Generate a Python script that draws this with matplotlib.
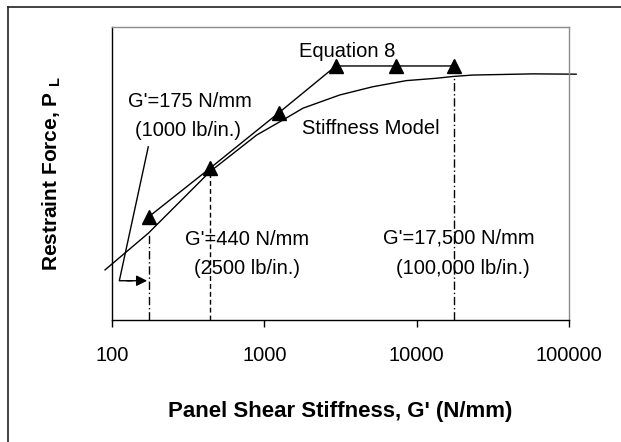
import numpy as np
import matplotlib
matplotlib.use("Agg")
import matplotlib.pyplot as plt
from matplotlib.lines import Line2D

plt.rcParams['font.family'] = ['Liberation Sans', 'DejaVu Sans']
plt.rcParams['mathtext.fontset'] = 'custom'
plt.rcParams['mathtext.rm'] = 'Liberation Sans'
plt.rcParams['mathtext.bf'] = 'Liberation Sans:bold'

# Modelo de rigidez (curva continua)
g_modelo = [90, 173, 439, 889, 1328, 1795, 3126, 5140, 8550, 13450, 17200, 23300, 57600, 111400]
p_modelo = [17.1, 29.6, 50.6, 63.1, 68.3, 72.3, 76.8, 79.6, 81.7, 82.5, 83.1, 83.6, 84.0, 83.9]

# Ecuacion 8 (triangulos)
g_ec8 = [175, 440, 1250, 2950, 7300, 17500]
p_ec8 = [35.3, 51.8, 70.8, 86.7, 86.7, 86.7]

# lineas verticales de referencia
g_ref = [175, 440, 17500]
p_ref = [29.6, 51.8, 83.1]
estilos_ref = [(0, (6, 2, 1, 2)), (0, (3.5, 2.2)), (0, (6, 2, 1, 2))]

ticks_x = [100, 1000, 10000, 100000]

fig = plt.figure(figsize=(6.21, 4.42), dpi=100)
ax = fig.add_axes([112 / 621, 1 - 320 / 442, 457 / 621, 293 / 442])

ax.plot(g_modelo, p_modelo, color='black', lw=1.0, clip_on=False)
ax.plot(g_ec8, p_ec8, color='black', lw=1.0, marker='^', markersize=10, clip_on=False)

for g, p, ls in zip(g_ref, p_ref, estilos_ref):
    ax.plot([g, g], [0, p], color='black', lw=1.0, linestyle=ls)

# flecha que apunta a G'=175
ax.plot([173, 111.7, 135], [59.1, 13.4, 13.4], color='black', lw=1.0)
ax.annotate('', xy=(170, 13.4), xytext=(125, 13.4),
            arrowprops=dict(arrowstyle='-|>', color='black', lw=1.0,
                            mutation_scale=16, shrinkA=0, shrinkB=0))

fs = 14.5
ax.text(3475, 91.5, 'Equation 8', fontsize=fs, ha='center', va='center')
ax.text(5030, 65.2, 'Stiffness Model', fontsize=fs, ha='center', va='center')
ax.text(324, 74.5, "G'=175 N/mm", fontsize=fs, ha='center', va='center')
ax.text(315, 64.8, "(1000 lb/in.)", fontsize=fs, ha='center', va='center')
ax.text(774, 27.6, "G'=440 N/mm", fontsize=fs, ha='center', va='center')
ax.text(764, 17.6, "(2500 lb/in.)", fontsize=fs, ha='center', va='center')
ax.text(18920, 27.9, "G'=17,500 N/mm", fontsize=fs, ha='center', va='center')
ax.text(20140, 17.6, "(100,000 lb/in.)", fontsize=fs, ha='center', va='center')

ax.set_xscale('log')
ax.set_xlim(100, 100000)
ax.set_ylim(0, 100)
ax.set_xticks(ticks_x)
ax.set_xticklabels([str(t) for t in ticks_x], fontsize=fs)
ax.xaxis.set_minor_locator(matplotlib.ticker.NullLocator())
ax.tick_params(axis='x', direction='out', length=5, width=1, pad=14)
ax.set_yticks([])

ax.spines['left'].set_color('black')
ax.spines['bottom'].set_color('black')
ax.spines['top'].set_color('#8c8c8c')
ax.spines['right'].set_color('#8c8c8c')
for s in ax.spines.values():
    s.set_linewidth(1.0)

ax.set_xlabel("Panel Shear Stiffness, G' (N/mm)", fontsize=16, fontweight='bold', labelpad=26)
ax.set_ylabel(r"Restraint Force, P $_\mathbf{L}$", fontsize=15, fontweight='bold', labelpad=35)

# marco exterior
fig.add_artist(Line2D([7.5 / 621, 7.5 / 621], [0, 1 - 7 / 442], transform=fig.transFigure, color='#222222', lw=1.2))
fig.add_artist(Line2D([7.5 / 621, 1], [1 - 7 / 442, 1 - 7 / 442], transform=fig.transFigure, color='#222222', lw=1.2))

fig.savefig('out.png', dpi=100)
